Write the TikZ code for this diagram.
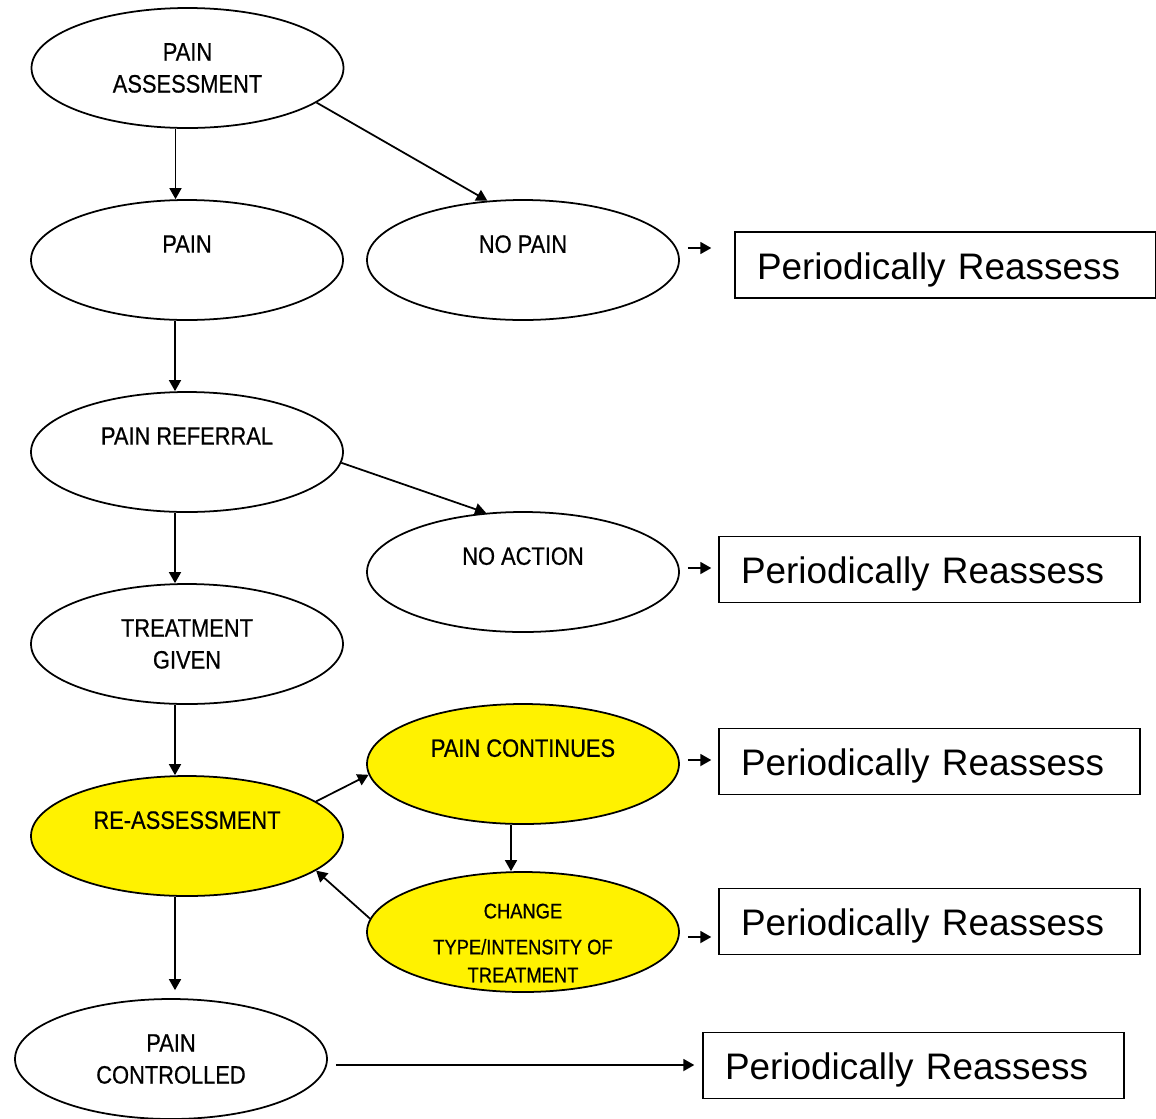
\documentclass[tikz,border=0pt]{standalone}
\usepackage{fontspec}
\setmainfont{Liberation Sans}
\newfontfamily\narrowsans[FakeStretch=0.87,FakeBold=0.6]{Liberation Sans}
\usetikzlibrary{shapes.geometric,arrows.meta}

\tikzset{
	oval/.style={draw, ellipse, line width=1pt, minimum width=6.24cm, minimum height=2.4cm,
		inner sep=0pt, align=center, font=\narrowsans\fontsize{14.3}{18.2}\selectfont},
	hot/.style={oval, fill=yellow},
	reassessbox/.style={draw, line width=0.8pt, minimum height=1.32cm, text width=7.54cm,
		text height=0.56cm, text depth=0pt, inner xsep=0.44cm, align=left,
		font=\fontsize{21}{25}\selectfont},
	arr/.style={-{Triangle[length=0.22cm,width=0.24cm]}, line width=1pt},
}

\begin{document}
\begin{tikzpicture}

	\useasboundingbox (0,0) rectangle (23.12,-22.36);

	\node[oval] (assess) at (3.75,-1.36) {PAIN\\ASSESSMENT};
	\node[oval] (pain) at (3.74,-5.2) {PAIN\\\mbox{}};
	\node[oval] (nopain) at (10.46,-5.2) {NO PAIN\\\mbox{}};
	\node[oval] (referral) at (3.74,-9.04) {PAIN REFERRAL\\\mbox{}};
	\node[oval] (noaction) at (10.46,-11.44) {NO ACTION\\\mbox{}};
	\node[oval] (treatment) at (3.74,-12.88) {TREATMENT\\GIVEN};
	\node[hot] (continues) at (10.46,-15.28) {PAIN CONTINUES\\\mbox{}};
	\node[hot] (reassess) at (3.74,-16.72) {RE-ASSESSMENT\\\mbox{}};
	\node[hot, font=\narrowsans\fontsize{12}{15.9}\selectfont] (change) at (10.46,-18.64)
		{\raisebox{-0.36cm}[0pt][0pt]{\begin{tabular}{@{}c@{}}CHANGE\\[0.16cm]TYPE/INTENSITY OF\\TREATMENT\end{tabular}}};
	\node[oval] (controlled) at (3.42,-21.18) {PAIN\\CONTROLLED};

	\node[reassessbox] (boxa) at (18.91,-5.3) {Periodically Reassess};
	\node[reassessbox] (boxb) at (18.59,-11.39) {Periodically Reassess};
	\node[reassessbox] (boxc) at (18.59,-15.23) {Periodically Reassess};
	\node[reassessbox] (boxd) at (18.59,-18.43) {Periodically Reassess};
	\node[reassessbox] (boxe) at (18.27,-21.31) {Periodically Reassess};

	% main column
	\draw[arr] ([xshift=-0.24cm]assess.south) -- ([xshift=-0.24cm]assess.south |- pain.north);
	\draw[arr] ([xshift=-0.24cm]pain.south) -- ([xshift=-0.24cm]pain.south |- referral.north);
	\draw[arr] ([xshift=-0.24cm]referral.south) -- ([xshift=-0.24cm]referral.south |- treatment.north);
	\draw[arr] ([xshift=-0.24cm]treatment.south) -- ([xshift=-0.24cm]treatment.south |- reassess.north);
	\draw[arr, shorten >=0.16cm] ([xshift=-0.24cm]reassess.south) -- ([xshift=-0.24cm]reassess.south |- controlled.north);

	% side branches
	\draw[arr] (assess.-15) -- (nopain.121);
	\draw[arr] (referral.-4.4) -- (noaction.122);
	\draw[arr] (reassess.15) -- (continues.184.4);
	\draw[arr] ([xshift=-0.24cm]continues.south) -- ([xshift=-0.24cm]continues.south |- change.north);
	\draw[arr] (change.175.6) -- (reassess.-15.5);

	% to the boxes
	\draw[arr, shorten <=0.16cm, shorten >=0.46cm] ([yshift=0.24cm]nopain.east) -- ([yshift=0.24cm]nopain.east -| boxa.west);
	\draw[arr, shorten <=0.16cm, shorten >=0.14cm] ([yshift=0.08cm]noaction.east) -- ([yshift=0.08cm]noaction.east -| boxb.west);
	\draw[arr, shorten <=0.16cm, shorten >=0.14cm] ([yshift=0.08cm]continues.east) -- ([yshift=0.08cm]continues.east -| boxc.west);
	\draw[arr, shorten <=0.16cm, shorten >=0.14cm] ([yshift=-0.1cm]change.east) -- ([yshift=-0.1cm]change.east -| boxd.west);
	\draw[arr, shorten <=0.16cm, shorten >=0.16cm] ([yshift=-0.12cm]controlled.east) -- ([yshift=-0.12cm]controlled.east -| boxe.west);

\end{tikzpicture}
\end{document}
